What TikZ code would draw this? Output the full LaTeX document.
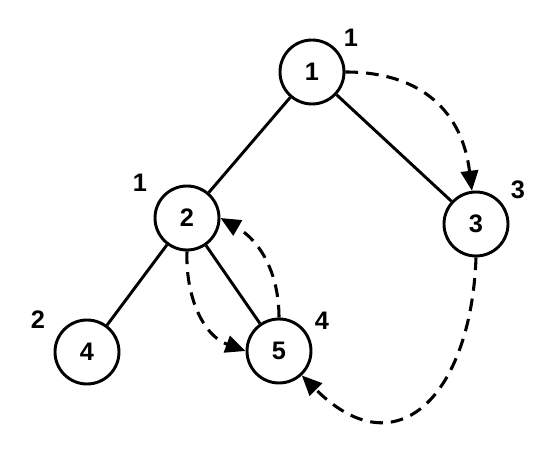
\documentclass[tikz,border=0pt]{standalone}
\usepackage{fontspec}
\setmainfont{Liberation Sans}
\usetikzlibrary{arrows.meta}
\begin{document}
\begin{tikzpicture}[x=0.75pt,y=0.75pt,
  vertex/.style={circle,draw,line width=2.2pt,minimum size=48pt,inner sep=0pt,font=\fontsize{19}{21}\selectfont\bfseries},
  lbl/.style={font=\fontsize{19}{21}\selectfont\bfseries,inner sep=0pt},
  tree/.style={line width=2.2pt},
  trav/.style={line width=2.3pt,dash pattern=on 9.5pt off 6pt,-{Triangle[length=15pt,width=13pt]}}]
\useasboundingbox (0,0) rectangle (558,464);
\node[vertex] (n1) at (312,392) {1};
\node[vertex] (n2) at (187,246) {2};
\node[vertex] (n3) at (476,240) {3};
\node[vertex] (n4) at (87,112) {4};
\node[vertex] (n5) at (279,113) {5};
\node[lbl] (l1) at (351,426) {1};
\node[lbl] (l2) at (140,281) {1};
\node[lbl] (l3) at (518,274) {3};
\node[lbl] (l4) at (38,144) {2};
\node[lbl] (l5) at (322,143) {4};
\draw[tree] (n1) -- (n2);
\draw[tree] (n1) -- (n3);
\draw[tree] (n2) -- (n4);
\draw[tree] (n2) -- (n5);
\draw[trav] (n1.east) to[out=0,in=97,looseness=1.15] (n3.97);
\draw[trav] (n2.south) to[out=-92,in=160] (n5.west);
\draw[trav] (n5.north) to[out=90,in=-30] (n2.east);
\draw[trav] (n3.south) to[out=-92,in=-45,looseness=1.65] (n5.-47);
\end{tikzpicture}
\end{document}
